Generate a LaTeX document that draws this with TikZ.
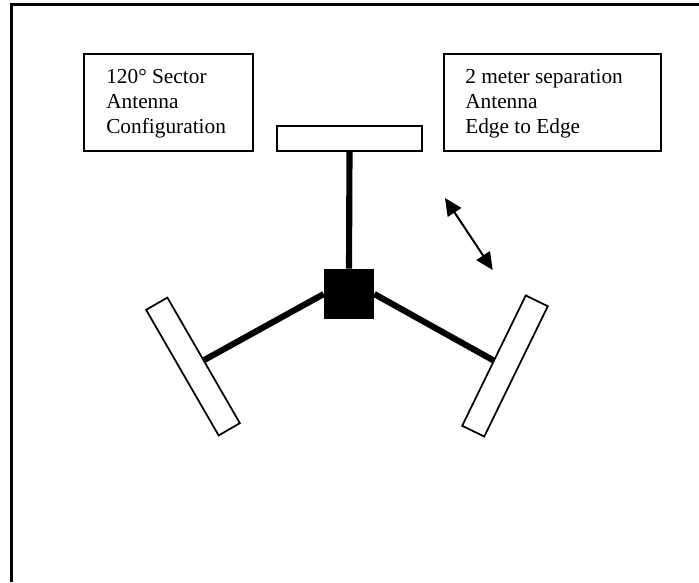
\documentclass[tikz,border=0pt]{standalone}
\usepackage{fontspec}
\setmainfont{Liberation Serif}
\usetikzlibrary{arrows.meta}
\begin{document}
\begin{tikzpicture}[x=0.75pt,y=-0.75pt,
  frame/.style={line width=1.6pt},
  labelbox/.style={draw,line width=1.3pt,rectangle,inner sep=0pt},
  labeltext/.style={align=left,inner sep=0pt,anchor=base west,font=\fontsize{16}{18.4}\selectfont},
  antenna/.style={draw,line width=1.3pt,fill=white,rectangle,inner sep=0pt,minimum width=108.75pt,minimum height=18.4pt},
  arm/.style={line width=4.6pt},
  hub/.style={fill=black,rectangle,inner sep=0pt,minimum size=37.5pt},
  dimarrow/.style={line width=1.5pt,{Triangle[length=13pt,width=12pt]}-{Triangle[length=13pt,width=12pt]}}]
\useasboundingbox (0,0) rectangle (699,582);
% outer frame (left and top edges)
\coordinate (fbl) at (11.5,582);
\coordinate (ftl) at (11.5,4.5);
\coordinate (ftr) at (699,4.5);
\draw[frame] (fbl) -- (ftl) -- (ftr);
% label boxes
\node[labelbox,minimum width=126.75pt,minimum height=72.75pt] (b1) at (168.5,102.5) {};
\node[labeltext] (t1) at (106,133) {120° Sector\\Antenna\\Configuration};
\node[labelbox,minimum width=162.75pt,minimum height=72.75pt] (b2) at (552.5,102.5) {};
\node[labeltext] (t2) at (465,133) {2 meter separation\\Antenna\\Edge to Edge};
% hub
\node[hub] (sq) at (349,294) {};
% antennas
\node[antenna] (ta) at (349.5,138.5) {};
\node[antenna,rotate=-60] (la) at (193,366.5) {};
\node[antenna,rotate=64] (ra) at (505,366) {};
% arms
\draw[arm] (ta.south) -- (sq.north);
\draw[arm] (la.north) -- (sq.west);
\draw[arm] (ra.north) -- (sq.east);
% separation arrow
\coordinate (a1) at (445,198);
\coordinate (a2) at (492.7,270);
\draw[dimarrow] (a1) -- (a2);
\end{tikzpicture}
\end{document}
